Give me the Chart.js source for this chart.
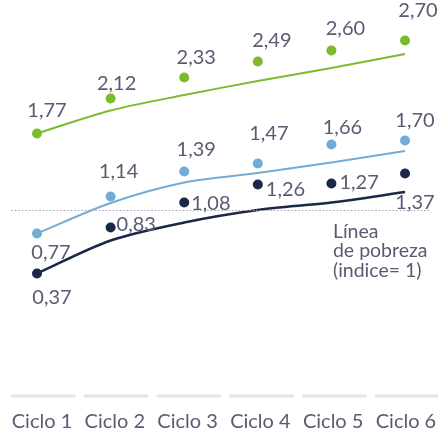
<!DOCTYPE html>
<html>
<head>
<meta charset="utf-8">
<script src="https://cdn.jsdelivr.net/npm/chart.js@4.4.1/dist/chart.umd.min.js"></script>
<style>
  html, body { margin: 0; padding: 0; background: #ffffff; }
  #wrap { width: 438px; height: 434px; position: relative; }
</style>
</head>
<body>
<div id="wrap"><canvas id="c"></canvas></div>
<script>
// ---- data ----
const categories = ['Ciclo 1', 'Ciclo 2', 'Ciclo 3', 'Ciclo 4', 'Ciclo 5', 'Ciclo 6'];
const valuesTop = [1.77, 2.12, 2.33, 2.49, 2.60, 2.70];     // green dots
const valuesMid = [0.77, 1.14, 1.39, 1.47, 1.66, 1.70];     // light blue dots
const valuesLow = [0.37, 0.83, 1.08, 1.26, 1.27, 1.37];     // navy dots
const trendTop = [1.77, 2.00, 2.155, 2.295, 2.425, 2.565];  // green line
const trendMid = [0.77, 1.075, 1.28, 1.375, 1.48, 1.595];   // light blue line
const trendLow = [0.37, 0.70, 0.88, 1.005, 1.08, 1.185];    // navy line
const povertyValue = 1;
const povertyText = ['Línea', 'de pobreza', '(indice= 1)'];

// ---- styles ----
const GREEN = '#7cbb2c', BLUE = '#72acd6', NAVY = '#1b2848';
const TEXT = '#5a5a72';
const FONT_FAMILY = 'Lato, "Open Sans", sans-serif';

// label placement (offsets from the dot, px) — style, not data
const placeTop = [[10, -23, 'center'], [6, -15, 'center'], [12, -20, 'center'], [14, -21, 'center'], [14, -22, 'center'], [13, -30, 'center']];
const placeMid = [[14, 19, 'center'], [8, -25, 'center'], [12, -22, 'center'], [11, -30, 'center'], [11, -17, 'center'], [10, -20, 'center']];
const placeLow = [[15, 24, 'center'], [6, -3, 'left'], [7, 1, 'left'], [8, 5, 'left'], [8, -1, 'left'], [10, 29, 'center']];

const toXY = arr => arr.map((v, i) => ({ x: i, y: v }));
const fmt = v => v.toFixed(2).replace('.', ',');

const dotSets = [
  { values: valuesTop, place: placeTop, color: GREEN },
  { values: valuesMid, place: placeMid, color: BLUE },
  { values: valuesLow, place: placeLow, color: NAVY }
];

const datasets = [
  { data: [{ x: -0.35, y: povertyValue }, { x: 5.35, y: povertyValue }], borderColor: '#a2a2b0', borderWidth: 1.2, borderDash: [1.5, 2], pointRadius: 0, tension: 0 },
  { data: toXY(trendTop), borderColor: GREEN, borderWidth: 2, pointRadius: 0, tension: 0.3 },
  { data: toXY(trendMid), borderColor: BLUE, borderWidth: 2, pointRadius: 0, tension: 0.3 },
  { data: toXY(trendLow), borderColor: NAVY, borderWidth: 2.5, pointRadius: 0, tension: 0.3 },
];
dotSets.forEach(s => {
  s.datasetIndex = datasets.length;
  datasets.push({ data: toXY(s.values), showLine: false, pointRadius: 5, pointBackgroundColor: s.color, pointBorderWidth: 0, borderColor: s.color });
});
datasets.forEach(d => { d.xAxisID = 'xp'; d.yAxisID = 'y'; d.fill = false; d.clip = false; });

const decorPlugin = {
  id: 'decor',
  beforeDatasetsDraw(chart) {
    const ctx = chart.ctx;
    const xa = chart.scales.x;
    const bottom = chart.chartArea.bottom;
    ctx.save();
    ctx.fillStyle = '#e3e4ea';
    categories.forEach((c, i) => {
      const px = xa.getPixelForValue(i);
      ctx.fillRect(px - 31, bottom - 1.5, 64.5, 3);
    });
    ctx.restore();
  },
  afterDatasetsDraw(chart) {
    const ctx = chart.ctx;
    ctx.save();
    ctx.fillStyle = TEXT;
    ctx.textBaseline = 'middle';
    ctx.font = '20px ' + FONT_FAMILY;
    dotSets.forEach(s => {
      const meta = chart.getDatasetMeta(s.datasetIndex);
      meta.data.forEach((pt, i) => {
        const p = s.place[i];
        ctx.textAlign = p[2];
        ctx.fillText(fmt(s.values[i]), pt.x + p[0], pt.y + p[1]);
      });
    });
    // poverty line caption
    const y0 = chart.scales.y.getPixelForValue(povertyValue);
    const x0 = chart.scales.xp.getPixelForValue(4) + 1.5;
    ctx.textAlign = 'left';
    ctx.font = '19.5px ' + FONT_FAMILY;
    povertyText.forEach((t, k) => ctx.fillText(t, x0, y0 + 21 + k * 19.5));
    ctx.restore();
  }
};

new Chart(document.getElementById('c'), {
  type: 'line',
  data: { datasets },
  options: {
    responsive: true,
    maintainAspectRatio: false,
    animation: false,
    layout: { padding: 0, autoPadding: false },
    plugins: { legend: { display: false }, tooltip: { enabled: false } },
    scales: {
      x: {
        type: 'linear', position: 'bottom',
        min: -0.577, max: 5.44,
        afterBuildTicks: s => { s.ticks = categories.map((c, i) => ({ value: i })); },
        afterFit: s => { s.height = 38; s.paddingLeft = 0; s.paddingRight = 0; },
        ticks: {
          autoSkip: false, maxRotation: 0, padding: 14, color: TEXT,
          font: { family: FONT_FAMILY, size: 20 },
          callback: v => categories[v]
        },
        grid: { display: false, drawTicks: false },
        border: { display: false }
      },
      xp: { type: 'linear', display: false, min: -0.5027, max: 5.448 },
      y: { type: 'linear', display: false, min: -0.855, max: 3.105 }
    }
  },
  plugins: [decorPlugin]
});
</script>
</body>
</html>
